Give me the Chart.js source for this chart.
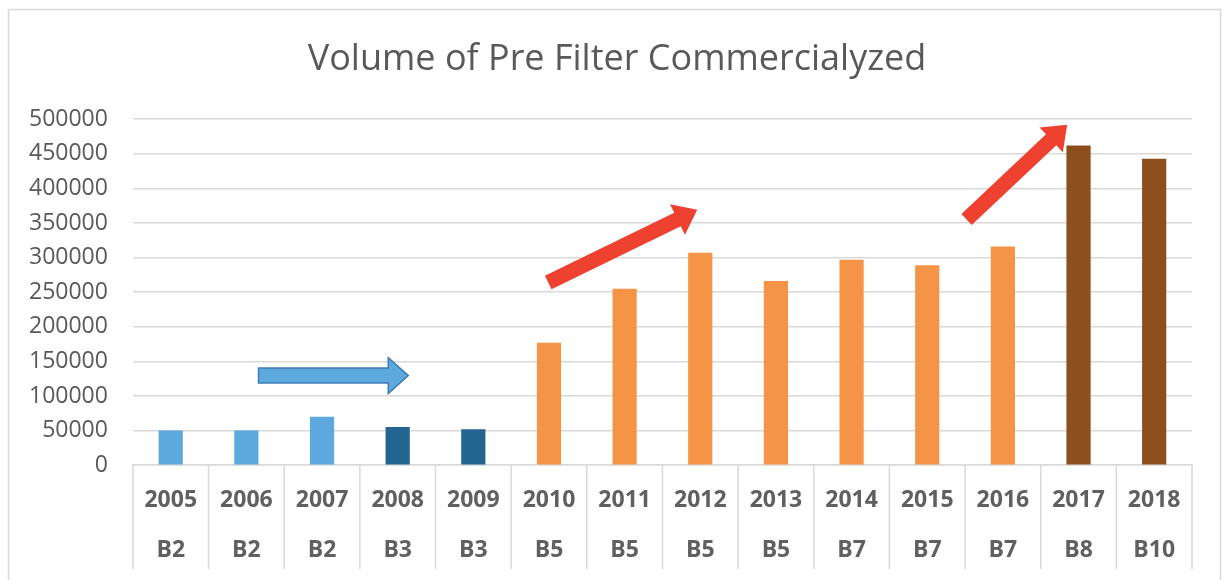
<!DOCTYPE html>
<html>
<head>
<meta charset="utf-8">
<script src="https://cdn.jsdelivr.net/npm/chart.js@4.4.1/dist/chart.umd.min.js"></script>
<style>
  html, body { margin: 0; padding: 0; background: #fff; }
  #wrap { width: 1229px; height: 580px; }
</style>
</head>
<body>
<div id="wrap"><canvas id="chart" width="1229" height="580"></canvas></div>
<script>
// data
const years = ['2005', '2006', '2007', '2008', '2009', '2010', '2011', '2012', '2013', '2014', '2015', '2016', '2017', '2018'];
const blends = ['B2', 'B2', 'B2', 'B3', 'B3', 'B5', 'B5', 'B5', 'B5', 'B7', 'B7', 'B7', 'B8', 'B10'];
const volumes = [50000, 50000, 70000, 55000, 52000, 177000, 255000, 307000, 266000, 297000, 289000, 316000, 462000, 443000];
const yTicks = [0, 50000, 100000, 150000, 200000, 250000, 300000, 350000, 400000, 450000, 500000];

const barColors = [
  '#5DA8DC', '#5DA8DC', '#5DA8DC',
  '#236491', '#236491',
  '#F59446', '#F59446', '#F59446', '#F59446', '#F59446', '#F59446', '#F59446',
  '#8E4F1F', '#8E4F1F'
];

// annotation arrows, in category index / value units
const arrows = [
  { from: [1.16, 129500], to: [3.14, 129500], shaft: 15, head: 36, headLen: 20, fill: '#5DA8DC', stroke: '#3F7DB3' },
  { from: [4.99, 264000], to: [6.96, 369000], shaft: 15, head: 34, headLen: 22, fill: '#EE4130', stroke: null },
  { from: [10.52, 355000], to: [11.85, 492000], shaft: 15, head: 34, headLen: 22, fill: '#EE4130', stroke: null }
];

const textColor = '#595959';
const gridColor = '#d9d9d9';

const framePlugin = {
  id: 'frame',
  afterLayout(chart) {
    // original title is centred on the frame, not on the padded box
    if (chart.titleBlock) {
      chart.titleBlock.left += 19;
      chart.titleBlock.right += 19;
    }
  },
  beforeDraw(chart) {
    const ctx = chart.ctx;
    ctx.save();
    ctx.fillStyle = '#fff';
    ctx.fillRect(0, 0, chart.width, chart.height);
    ctx.strokeStyle = gridColor;
    ctx.lineWidth = 1.5;
    ctx.strokeRect(8.5, 9.5, chart.width - 17, chart.height + 20);
    ctx.restore();
  }
};

// vertical separators in the category label table
const tablePlugin = {
  id: 'table',
  afterDraw(chart) {
    const x = chart.scales.x;
    const ctx = chart.ctx;
    const half = (x.getPixelForValue(1) - x.getPixelForValue(0)) / 2;
    ctx.save();
    ctx.strokeStyle = gridColor;
    ctx.lineWidth = 1.5;
    for (let i = 0; i <= years.length; i++) {
      const px = i < years.length ? x.getPixelForValue(i) - half : x.right;
      ctx.beginPath();
      ctx.moveTo(px, x.top);
      ctx.lineTo(px, 569);
      ctx.stroke();
    }
    ctx.restore();
  }
};

const arrowPlugin = {
  id: 'arrows',
  afterDatasetsDraw(chart) {
    const xs = chart.scales.x, ys = chart.scales.y;
    const ctx = chart.ctx;
    arrows.forEach(a => {
      const x0 = xs.getPixelForValue(a.from[0]), y0 = ys.getPixelForValue(a.from[1]);
      const x1 = xs.getPixelForValue(a.to[0]), y1 = ys.getPixelForValue(a.to[1]);
      const len = Math.hypot(x1 - x0, y1 - y0);
      const ang = Math.atan2(y1 - y0, x1 - x0);
      const s = a.shaft / 2, h = a.head / 2, b = len - a.headLen;
      ctx.save();
      ctx.translate(x0, y0);
      ctx.rotate(ang);
      ctx.beginPath();
      ctx.moveTo(0, -s);
      ctx.lineTo(b, -s);
      ctx.lineTo(b, -h);
      ctx.lineTo(len, 0);
      ctx.lineTo(b, h);
      ctx.lineTo(b, s);
      ctx.lineTo(0, s);
      ctx.closePath();
      ctx.fillStyle = a.fill;
      ctx.fill();
      if (a.stroke) {
        ctx.strokeStyle = a.stroke;
        ctx.lineWidth = 1.5;
        ctx.stroke();
      }
      ctx.restore();
    });
  }
};

new Chart(document.getElementById('chart').getContext('2d'), {
  type: 'bar',
  data: {
    labels: years.map((y, i) => [y, blends[i]]),
    datasets: [{
      label: 'Volume',
      data: volumes,
      backgroundColor: barColors,
      borderWidth: 0,
      barPercentage: 0.32,
      categoryPercentage: 1
    }]
  },
  options: {
    responsive: false,
    animation: false,
    layout: { padding: { left: 4, right: 37, top: 38, bottom: 3 } },
    plugins: {
      legend: { display: false },
      tooltip: { enabled: false },
      title: {
        display: true,
        text: 'Volume of Pre Filter Commercialyzed',
        color: textColor,
        font: { family: 'Open Sans', size: 36, weight: 'normal' },
        padding: { top: 0, bottom: 38 }
      }
    },
    scales: {
      x: {
        grid: { display: false },
        border: { display: true, color: gridColor, width: 1.5 },
        ticks: {
          color: '#606060',
          padding: 2,
          maxRotation: 0,
          autoSkip: false,
          font: { family: 'Open Sans', size: 23, weight: 'bold', lineHeight: 2.17 }
        }
      },
      y: {
        min: 0,
        max: 500000,
        afterBuildTicks(scale) {
          scale.ticks = yTicks.map(v => ({ value: v }));
        },
        grid: { color: gridColor, lineWidth: 1.5, drawTicks: false },
        border: { display: false },
        ticks: {
          color: textColor,
          padding: 25,
          font: { family: 'Open Sans', size: 23 },
          callback: v => String(v)
        }
      }
    }
  },
  plugins: [framePlugin, tablePlugin, arrowPlugin]
});
</script>
</body>
</html>
